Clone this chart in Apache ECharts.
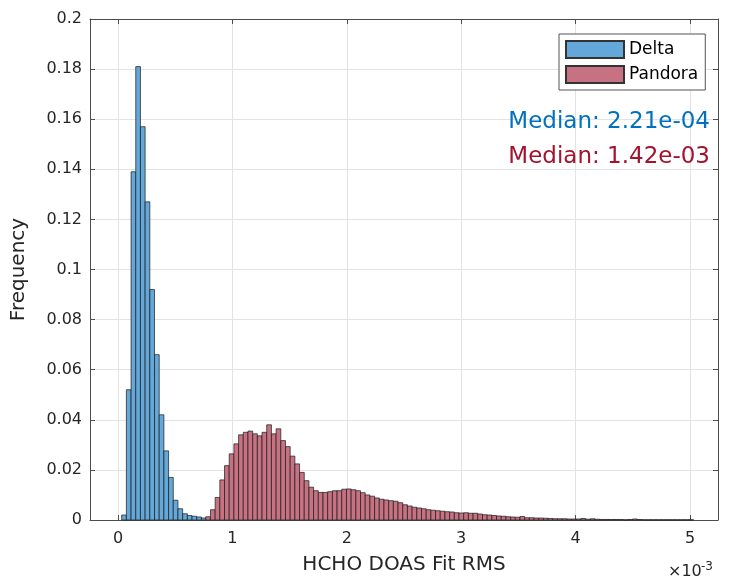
<!DOCTYPE html>
<html>
<head>
<meta charset="utf-8">
<script src="https://cdn.jsdelivr.net/npm/echarts@6/dist/echarts.min.js"></script>
<style>html,body{margin:0;padding:0;background:#fff;}#c{width:733px;height:581px;}</style>
</head>
<body>
<div id="c"></div>
<script>
// x values are in units of 1e-3
var xTicks = [0, 1, 2, 3, 4, 5];
var yTicks = [0, 0.02, 0.04, 0.06, 0.08, 0.1, 0.12, 0.14, 0.16, 0.18, 0.2];
var seriesNames = ['Delta', 'Pandora'];
var binWidth = 0.041;
var deltaStart = 0.032;
var deltaValues = [0.002, 0.052, 0.139, 0.181, 0.157, 0.127, 0.092, 0.066, 0.042, 0.0276,
  0.017, 0.0079, 0.0045, 0.0025, 0.0018, 0.0015, 0.0012, 0.0008];
var pandoraStart = 0.767;
var pandoraValues = [0.0013, 0.0041, 0.009, 0.016, 0.0217, 0.0264, 0.0304, 0.034, 0.035, 0.0355,
  0.0344, 0.0336, 0.035, 0.038, 0.0344, 0.0364, 0.0317, 0.0293, 0.0255, 0.0224,
  0.019, 0.0157, 0.0131, 0.0117, 0.011, 0.011, 0.0113, 0.0117, 0.0117, 0.0123,
  0.0124, 0.0121, 0.0117, 0.0109, 0.0100, 0.0095, 0.0088, 0.0083, 0.0080, 0.0077,
  0.0075, 0.0069, 0.0061, 0.0056, 0.0051, 0.0048, 0.0045, 0.0041, 0.0039, 0.0037,
  0.0035, 0.0033, 0.0032, 0.0029, 0.0028, 0.0029, 0.0027, 0.0027, 0.0024, 0.0021,
  0.0020, 0.0018, 0.0016, 0.0015, 0.0013, 0.0012, 0.0011, 0.0014, 0.0009, 0.0009,
  0.0008, 0.0008, 0.0007, 0.0006, 0.0005, 0.0005, 0.0005, 0.0004, 0.0004, 0.0004,
  0.0006, 0.0003, 0.0005, 0.0003, 0.0002, 0.0002, 0.0002, 0.0002, 0.0002, 0.0001,
  0.0002, 0.0004, 0.0002, 0.0001, 0.0001, 0.0001, 0.0001, 0.0001, 0.0001, 0.0001,
  0.0001, 0.0001, 0.0001, 0.0001];
var medianTexts = ['Median: 2.21e-04', 'Median: 1.42e-03'];

var FONT = 'DejaVu Sans';
var colors = ['#63a8d8', '#c77282'];
var textColors = ['#0072BD', '#A2142F'];

function bins(start, vals) {
  return vals.map(function (v, i) {
    return [start + i * binWidth, start + (i + 1) * binWidth, v];
  });
}

function makeRender(color) {
  return function (params, api) {
    var p0 = api.coord([api.value(0), 0]);
    var p1 = api.coord([api.value(1), api.value(2)]);
    return {
      type: 'rect',
      shape: { x: p0[0], y: p1[1], width: p1[0] - p0[0], height: p0[1] - p1[1] },
      style: { fill: color, stroke: '#1a1a1a', lineWidth: 0.7 }
    };
  };
}

var chart = echarts.init(document.getElementById('c'), null, { renderer: 'canvas' });
var axLine = { show: true, onZero: false, lineStyle: { color: '#4d4d4d', width: 1 } };
var tickStyle = { color: '#4d4d4d' };
var option = {
  animation: false,
  backgroundColor: '#fff',
  grid: { left: 90, top: 19, width: 628, height: 501, containLabel: false },
  xAxis: [{
    type: 'value', min: -0.245, max: 5.245, position: 'bottom',
    axisLine: axLine,
    axisTick: { show: true, inside: true, length: 5, customValues: xTicks, lineStyle: tickStyle },
    axisLabel: { customValues: xTicks, fontFamily: FONT, fontSize: 16, color: '#262626', margin: 11 },
    splitLine: { show: true, lineStyle: { color: '#e3e3e3', width: 1 } },
    name: 'HCHO DOAS Fit RMS', nameLocation: 'middle', nameGap: 35,
    nameTextStyle: { fontFamily: FONT, fontSize: 20, color: '#262626' }
  }, {
    type: 'value', min: -0.245, max: 5.245, position: 'top',
    axisLine: axLine,
    axisTick: { show: true, inside: true, length: 5, customValues: xTicks, lineStyle: tickStyle },
    axisLabel: { show: false },
    splitLine: { show: false }
  }],
  yAxis: [{
    type: 'value', min: 0, max: 0.2, interval: 0.02, position: 'left',
    axisLine: axLine,
    axisTick: { show: true, inside: true, length: 5, lineStyle: tickStyle },
    axisLabel: { fontFamily: FONT, fontSize: 16, color: '#262626', margin: 8,
      formatter: function (v) { return String(Math.round(v * 100) / 100); } },
    splitLine: { show: true, lineStyle: { color: '#e3e3e3', width: 1 } },
    name: 'Frequency', nameLocation: 'middle', nameGap: 61,
    nameTextStyle: { fontFamily: FONT, fontSize: 20, color: '#262626' }
  }, {
    type: 'value', min: 0, max: 0.2, interval: 0.02, position: 'right',
    axisLine: axLine,
    axisTick: { show: true, inside: true, length: 5, lineStyle: tickStyle },
    axisLabel: { show: false },
    splitLine: { show: false }
  }],
  legend: {
    left: 559, top: 34, orient: 'vertical',
    padding: [6, 7, 6, 6], itemGap: 6, itemWidth: 58, itemHeight: 17,
    borderColor: '#555', borderWidth: 1, backgroundColor: '#fff',
    icon: 'rect',
    textStyle: { fontFamily: FONT, fontSize: 17, color: '#000' },
    data: seriesNames
  },
  series: [{
    name: seriesNames[0], type: 'custom', xAxisIndex: 0, yAxisIndex: 0,
    itemStyle: { color: colors[0], borderColor: '#333', borderWidth: 0.8 },
    renderItem: makeRender(colors[0]),
    encode: { x: [0, 1], y: 2 },
    data: bins(deltaStart, deltaValues)
  }, {
    name: seriesNames[1], type: 'custom', xAxisIndex: 0, yAxisIndex: 0,
    itemStyle: { color: colors[1], borderColor: '#333', borderWidth: 0.8 },
    renderItem: makeRender(colors[1]),
    encode: { x: [0, 1], y: 2 },
    data: bins(pandoraStart, pandoraValues)
  }],
  graphic: [
    { type: 'text', z: 100, style: { x: 710, y: 122, text: medianTexts[0], textAlign: 'right', textVerticalAlign: 'middle',
      fill: textColors[0], font: '23px "DejaVu Sans"' } },
    { type: 'text', z: 100, style: { x: 710, y: 157, text: medianTexts[1], textAlign: 'right', textVerticalAlign: 'middle',
      fill: textColors[1], font: '23px "DejaVu Sans"' } },
    { type: 'text', z: 100, style: { x: 668, y: 580, text: '×10', textAlign: 'left', textVerticalAlign: 'bottom',
      fill: '#262626', font: '16px "DejaVu Sans"' } },
    { type: 'text', z: 100, style: { x: 701, y: 561, text: '-3', textAlign: 'left', textVerticalAlign: 'top',
      fill: '#262626', font: '12px "DejaVu Sans"' } }
  ]
};
chart.setOption(option);
</script>
</body>
</html>
